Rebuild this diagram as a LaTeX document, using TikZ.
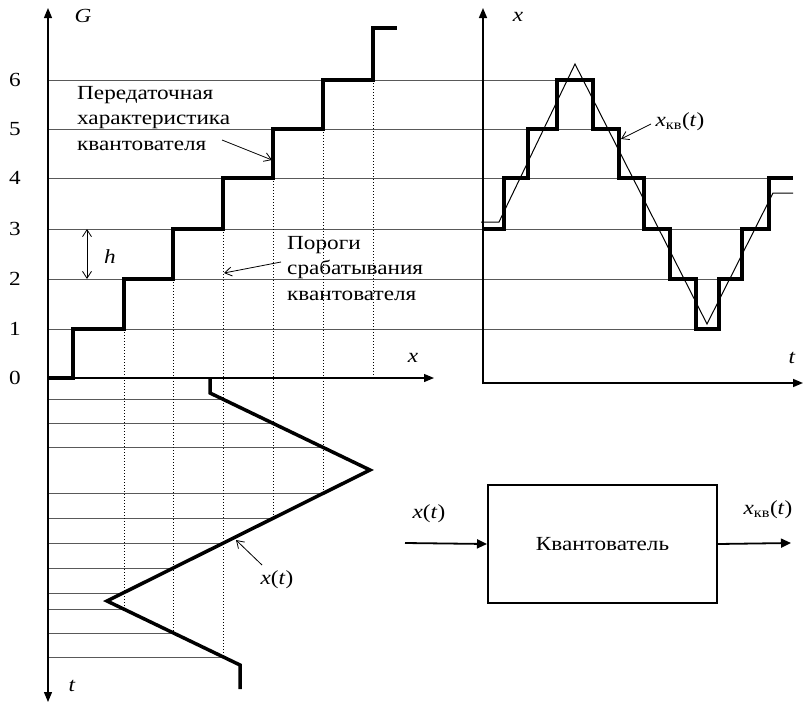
\documentclass[tikz,border=0pt]{standalone}
\usepackage{fontspec}
\setmainfont{Liberation Serif}[FakeStretch=1.16]
\usetikzlibrary{arrows.meta}

\tikzset{
  achse/.style={line width=1.2pt},
  stufe/.style={line width=3.5pt, line join=miter},
  signal/.style={line width=1pt},
  pegel/.style={black!65, line width=1pt},
  hilfslinie/.style={dotted, line width=1pt},
  hinweis/.style={line width=0.8pt, -{Straight Barb[length=7pt,width=9pt]}},
  pfeil/.style={line width=1.8pt, -{Triangle[length=10pt,width=9pt]}},
  lbl/.style={inner sep=0pt},
}
\newcommand{\xkv}{\textit{x}\textsubscript{кв}(\textit{t})}

\begin{document}
\begin{tikzpicture}[x=1pt, y=-1pt, font=\fontsize{20}{25.5}\selectfont]
  \useasboundingbox (0,0) rectangle (803,704);

  % Pegellinien
  \foreach \y/\xe in {329/719, 279/742, 229/769, 178/793, 129/619, 80/593}
    \draw[pegel] (48,\y) -- (\xe,\y);

  % Schnittzeiten mit den Schwellen
  \foreach \y/\xe in {399/223, 423/273, 447/323, 493/323, 518/273, 543/223,
                      568/173, 593/123, 609/123, 633/173, 657/223}
    \draw[pegel] (48,\y) -- (\xe,\y);

  % Schwellen (punktiert)
  \foreach \x/\ya/\yb in {124/329/609, 173/279/633, 223/229/657,
                          273/178/518, 323/129/493, 373/80/378}
    \draw[hilfslinie] (\x,\ya) -- (\x,\yb);

  % Achsen
  \draw[achse, {Triangle[length=10pt,width=8pt]}-{Triangle[length=10pt,width=8pt]}] (48,702) -- (48,8);
  \draw[achse, -{Triangle[length=10pt,width=8pt]}] (48,378) -- (434,378);
  \draw[achse, line width=1.6pt, -{Triangle[length=10pt,width=8pt]}] (483,384) -- (483,8);
  \draw[achse, line width=1.6pt, -{Triangle[length=10pt,width=8pt]}] (482,383) -- (803,383);

  % Kennlinie des Quantisierers
  \draw[stufe] (48,378) -- (73,378) -- (73,329) -- (124,329) -- (124,279) -- (173,279)
    -- (173,229) -- (223,229) -- (223,178) -- (273,178) -- (273,129) -- (323,129)
    -- (323,80) -- (373,80) -- (373,28) -- (397,28);

  % Eingangssignal x(t), Zeit nach unten
  \draw[stufe] (210,377) -- (210,393) -- (370,470) -- (107,601) -- (240,665) -- (240,689);

  % Zeitverlauf rechts
  \draw[signal] (481,222) -- (499,222) -- (575,64) -- (707,324) -- (773,193) -- (793,193);
  \draw[stufe] (483,229) -- (504,229) -- (504,178) -- (528,178) -- (528,129) -- (557,129)
    -- (557,80) -- (593,80) -- (593,129) -- (619,129) -- (619,178) -- (644,178)
    -- (644,229) -- (670,229) -- (670,279) -- (696,279) -- (696,329) -- (719,329)
    -- (719,279) -- (742,279) -- (742,229) -- (769,229) -- (769,178) -- (793,178);

  % Beschriftung der Achsen
  \foreach \n/\y in {0/378, 1/329, 2/279, 3/229, 4/178, 5/129, 6/80}
    \node[lbl] (num\n) at (15,\y) {\n};
  \node[lbl] (labG) at (83,16) {\textit{G}};
  \node[lbl] (labx) at (413,358) {\textit{x}};
  \node[lbl] (labt) at (72,686) {\textit{t}};
  \node[lbl] (labxr) at (518,17) {\textit{x}};
  \node[lbl] (labtr) at (792,358) {\textit{t}};

  % Quantisierungsschritt h
  \coordinate (h3) at (87,229);
  \coordinate (h2) at (87,279);
  \draw[line width=0.8pt, {Straight Barb[length=7pt,width=9pt]}-{Straight Barb[length=7pt,width=9pt]}] (h3) -- (h2);
  \node[lbl] (labh) at (110,257) {\textit{h}};

  % Hinweise
  \node[lbl, anchor=north west, align=left] (kennl) at (77,86)
    {Передаточная\\характеристика\\квантователя};
  \coordinate (kennlP) at (272,160);
  \draw[hinweis] (222,140) -- (kennlP);

  \node[lbl, anchor=north west, align=left] (schw) at (287,236)
    {Пороги\\срабатывания\\квантователя};
  \coordinate (schwP) at (224,273);
  \draw[hinweis] (281,262) -- (schwP);

  \node[lbl] (labxt) at (277,580) {\textit{x}(\textit{t})};
  \coordinate (xtP) at (236,540);
  \draw[hinweis] (262,565) -- (xtP);

  \node[lbl] (labxkv) at (680,122) {\xkv};
  \coordinate (xkvP) at (621,139);
  \draw[hinweis] (651,124) -- (xkvP);

  % Blockschaltbild
  \node[draw, line width=2pt, minimum width=229pt, minimum height=118pt] (quant)
    at (602.5,544) {Квантователь};
  \coordinate (ein) at (405,543);
  \coordinate (aus) at (791,543);
  \draw[pfeil] (ein) -- (quant.west);
  \draw[pfeil] (quant.east) -- (aus);
  \node[lbl] (labein) at (429,514) {\textit{x}(\textit{t})};
  \node[lbl] (labaus) at (768,510) {\xkv};
\end{tikzpicture}
\end{document}
